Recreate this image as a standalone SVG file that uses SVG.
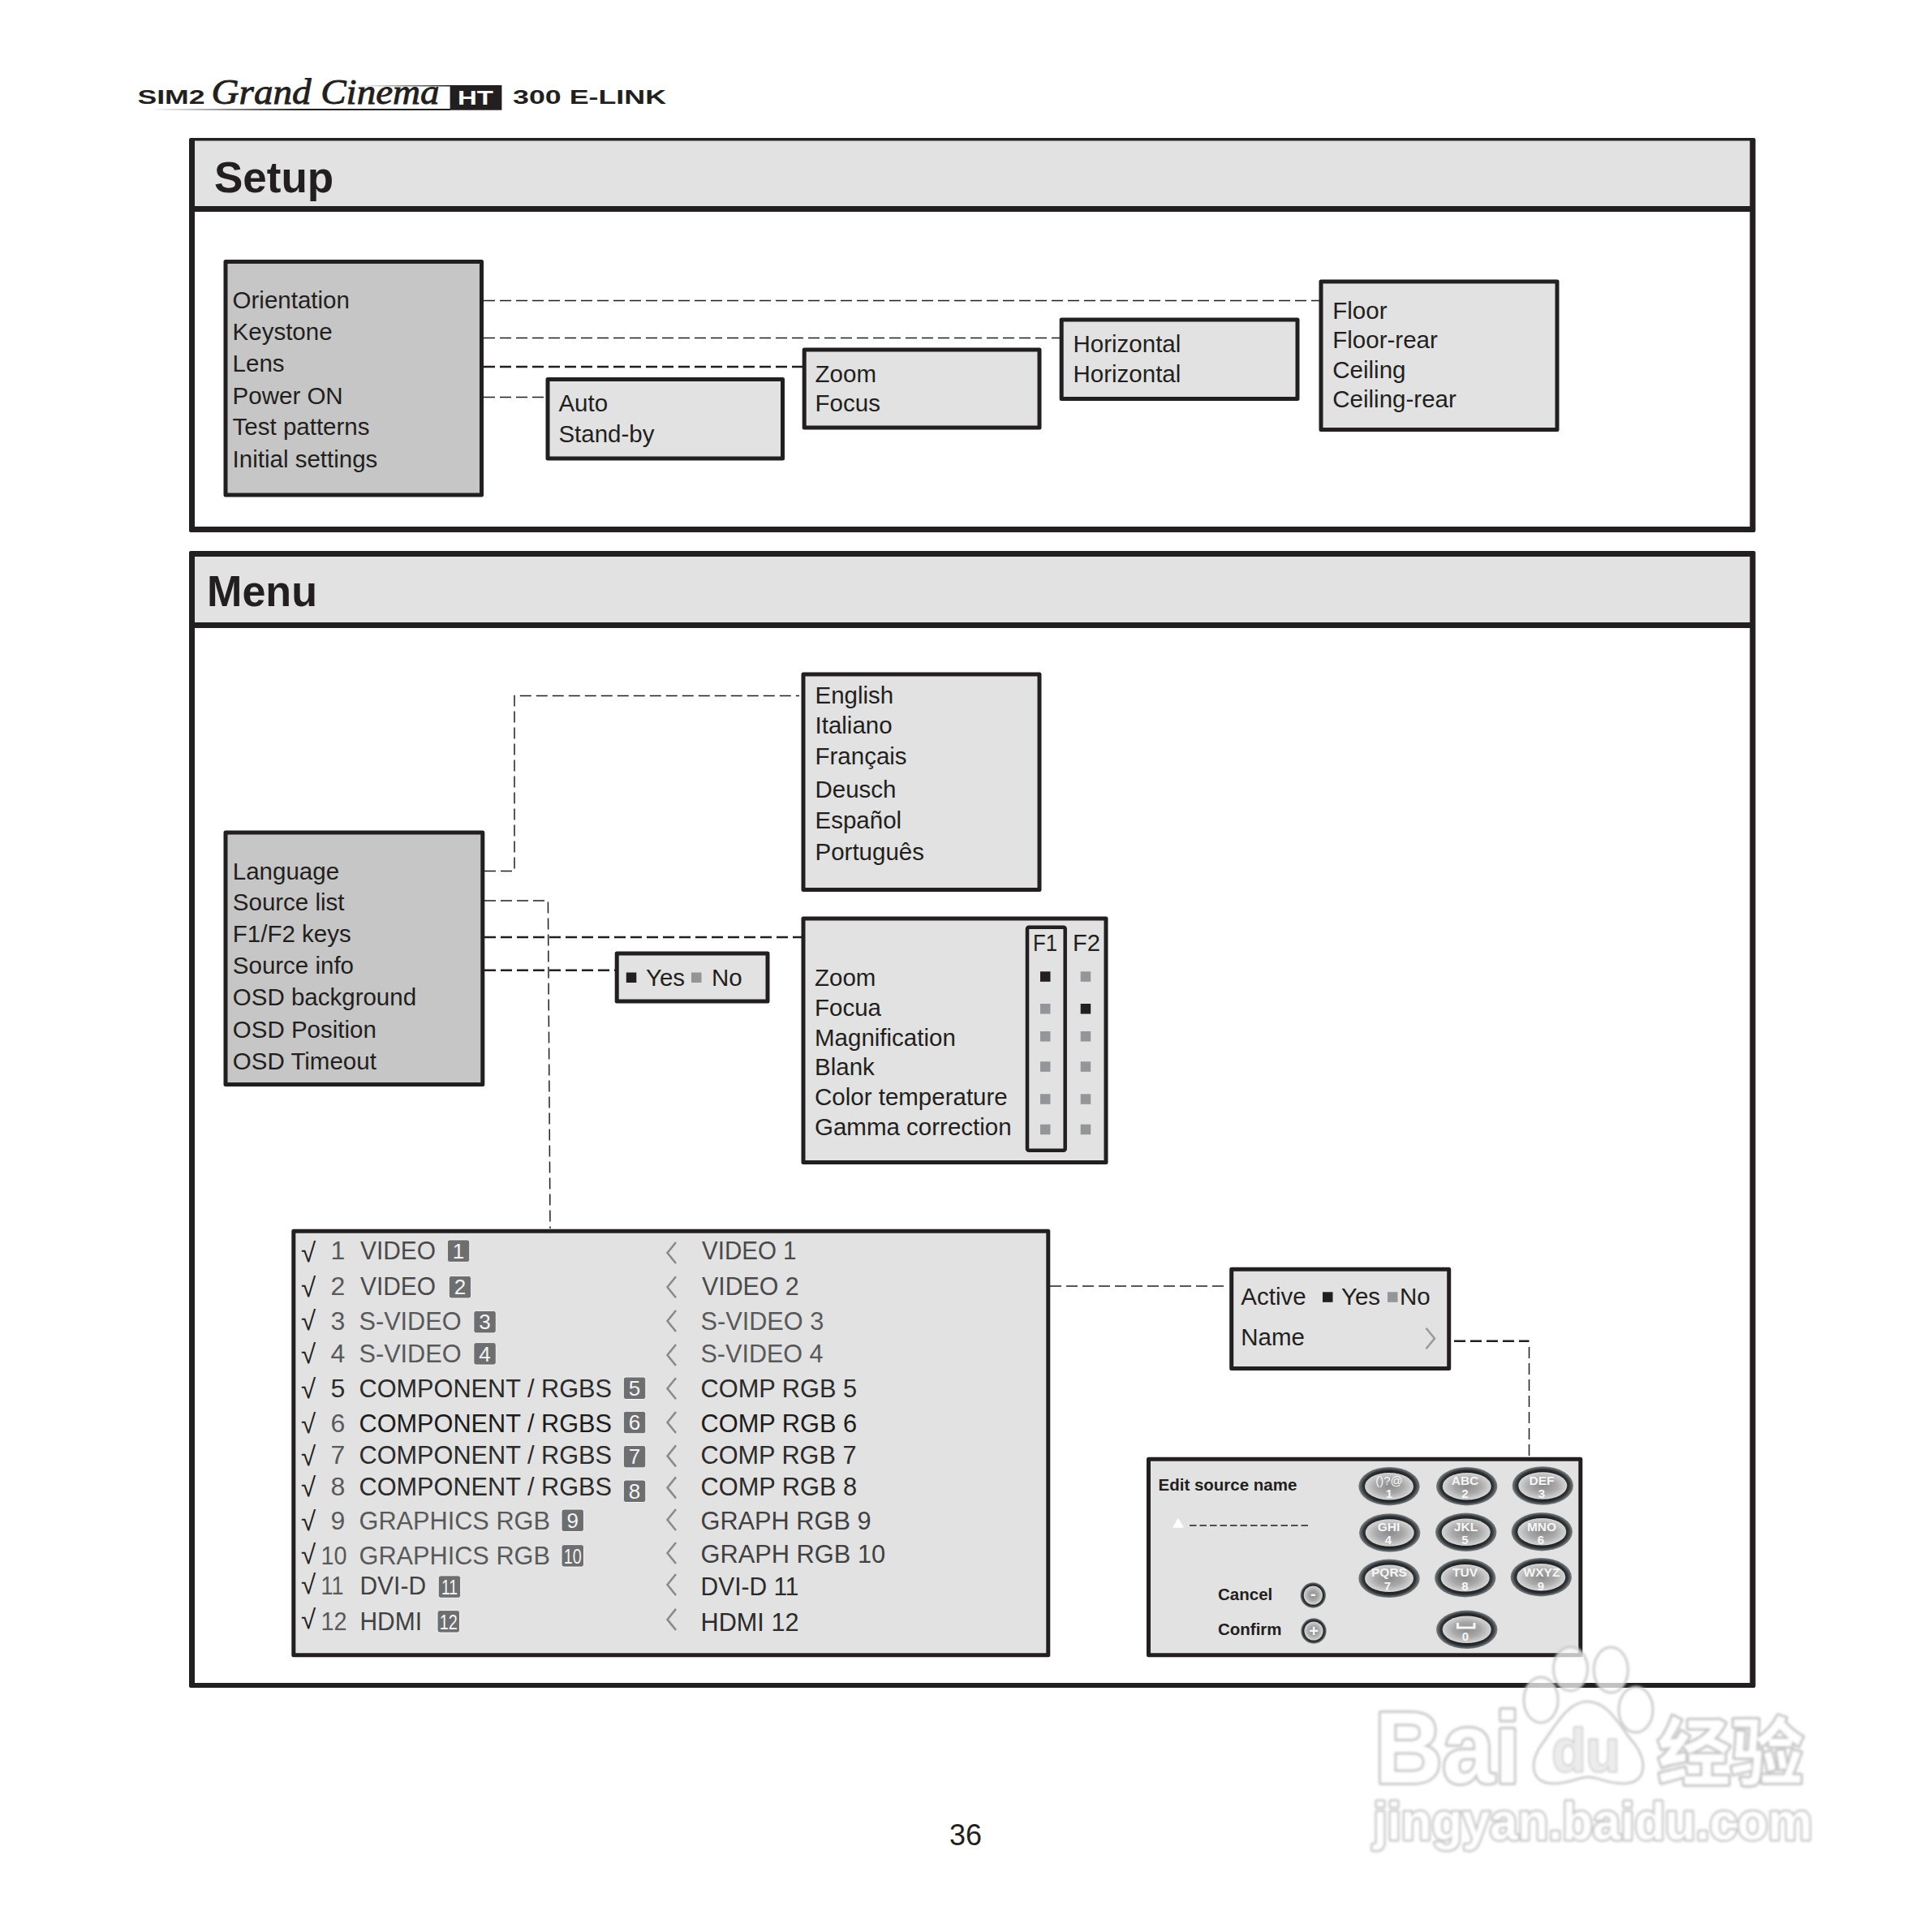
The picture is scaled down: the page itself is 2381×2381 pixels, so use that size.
<svg xmlns="http://www.w3.org/2000/svg" width="2381" height="2381" viewBox="0 0 2381 2381">
<style>
text{font-family:"Liberation Sans",Arial,sans-serif;fill:#231f20}
.t{font-size:29.5px}
.h{font-size:53px;font-weight:bold}
.box{fill:#e2e2e2;stroke:#231f20;stroke-width:5;stroke-linejoin:round}
.dark{fill:#c6c6c6}
.thin{fill:none;stroke:#231f20;stroke-width:1.5;stroke-dasharray:14 6}
.thick{fill:none;stroke:#231f20;stroke-width:2.6;stroke-dasharray:14 6}
.on{fill:#231f20}
.off{fill:#939598}
.s{font-size:32px}
.g1{fill:#4a4a4c}.g2{fill:#58595b}.g3{fill:#2b2b2b}.g4{fill:#1c1c1c}.g5{fill:#414042}
.chk{font-size:33px;fill:#231f20}
.bd{fill:#6d6e70;stroke:#f5f5f5;stroke-width:1}
.bt{font-size:26px;fill:#f4f4f4;text-anchor:middle}
.chev{fill:none;stroke:#8a8a8c;stroke-width:2.6}
.kl{font-size:15px;font-weight:bold;fill:#f6f6f6;text-anchor:middle}
.lb{font-size:20.5px;font-weight:bold}
.logo{font-weight:bold;font-size:24px}
.wm{fill:#fff;fill-opacity:.72;stroke:#c2c2c2;stroke-width:2.5}
.wmt{fill:#fff;stroke:#c6c6c6;stroke-width:6;paint-order:stroke;stroke-linejoin:round;font-weight:bold}
</style>
<defs>
<linearGradient id="fade" x1="0" x2="1" y1="0" y2="0"><stop offset="0" stop-color="#231f20" stop-opacity="0"/><stop offset=".5" stop-color="#231f20"/></linearGradient>
<linearGradient id="fade2" x1="0" x2="1" y1="0" y2="0"><stop offset="0" stop-color="#231f20" stop-opacity="0"/><stop offset="1" stop-color="#231f20"/></linearGradient>
<radialGradient id="ring"><stop offset=".72" stop-color="#18191b"/><stop offset=".86" stop-color="#33373a"/><stop offset="1" stop-color="#7c8285"/></radialGradient>
<radialGradient id="cap"><stop offset="0" stop-color="#8b8b8b"/><stop offset=".55" stop-color="#a8a8a8"/><stop offset="1" stop-color="#d6d6d6"/></radialGradient>
<g id="key"><ellipse rx="37.7" ry="23.7" fill="url(#ring)"/><ellipse rx="30" ry="16.8" fill="url(#cap)"/></g>
<g id="rkey"><circle r="15.7" fill="url(#ring)"/><circle r="11.6" fill="url(#cap)"/></g>
<filter id="soft" x="-5%" y="-5%" width="110%" height="110%"><feGaussianBlur stdDeviation="1.4"/></filter>
</defs>
<rect width="2381" height="2381" fill="#fff"/>

<g id="logo">
<text class="logo" x="169.5" y="128" textLength="83" lengthAdjust="spacingAndGlyphs">SIM2</text>
<text x="260.6" y="128" textLength="281" lengthAdjust="spacingAndGlyphs" style="font-family:'Liberation Serif',serif;font-style:italic;font-size:44px;stroke:#231f20;stroke-width:.9">Grand Cinema</text>
<rect x="186" y="134" width="369" height="2" fill="url(#fade)"/>
<rect x="440" y="105" width="115" height="1.5" fill="url(#fade2)"/>
<rect x="554.6" y="105" width="63.8" height="30.7" fill="#231f20"/>
<text class="logo" x="564" y="129" textLength="44" lengthAdjust="spacingAndGlyphs" style="fill:#fff">HT</text>
<text class="logo" x="632" y="128" textLength="189" lengthAdjust="spacingAndGlyphs">300 E-LINK</text>
</g>

<g id="panel-setup">
<rect x="233" y="170" width="1930.500" height="486" rx="2" fill="#231f20"/>
<rect x="240" y="173.500" width="1916.500" height="80.500" fill="#e2e2e2"/>
<rect x="240" y="261" width="1916.500" height="388" fill="#fff"/>
<text class="h" x="264" y="236.500">Setup</text>
</g>
<g id="panel-menu">
<rect x="233" y="679" width="1930.500" height="1401" rx="2" fill="#231f20"/>
<rect x="240" y="686" width="1916.500" height="81" fill="#e2e2e2"/>
<rect x="240" y="774" width="1916.500" height="1300" fill="#fff"/>
<text class="h" x="255" y="747" textLength="136" lengthAdjust="spacingAndGlyphs">Menu</text>
</g>

<g id="connectors">
<path class="thin" d="M596 370.500H1626"/>
<path class="thin" d="M596 416.500H1306"/>
<path class="thick" d="M596 452H989"/>
<path class="thin" d="M596 489.500H672"/>
<path class="thin" d="M597 1073.600H634V857.400H985"/>
<path class="thin" d="M597 1110H675.400L678 1514"/>
<path class="thick" d="M597 1155H988"/>
<path class="thick" d="M597 1195.800H758"/>
<path class="thin" d="M1294 1585H1510"/>
<path class="thick" d="M1792 1652.700H1884.500"/>
<path class="thin" d="M1884.500 1660V1796"/>
</g>

<g id="setup-menu">
<rect class="box dark" x="278" y="322.500" width="315.500" height="287.500"/>
<text class="t" x="286.600" y="380">Orientation</text>
<text class="t" x="286.600" y="419.400">Keystone</text>
<text class="t" x="286.600" y="458.400">Lens</text>
<text class="t" x="286.600" y="497.500">Power ON</text>
<text class="t" x="286.600" y="536">Test patterns</text>
<text class="t" x="286.600" y="576">Initial settings</text>
</g>
<g id="power-on">
<rect class="box" x="675" y="467.500" width="289.500" height="97.500"/>
<text class="t" x="688.400" y="507.400">Auto</text>
<text class="t" x="688.400" y="544.500">Stand-by</text>
</g>
<g id="lens">
<rect class="box" x="991.200" y="431" width="289.800" height="96"/>
<text class="t" x="1004.600" y="470.700">Zoom</text>
<text class="t" x="1004.600" y="507.400">Focus</text>
</g>
<g id="keystone">
<rect class="box" x="1308.200" y="394" width="290.800" height="97.500"/>
<text class="t" x="1322.500" y="434">Horizontal</text>
<text class="t" x="1322.500" y="471">Horizontal</text>
</g>
<g id="orientation">
<rect class="box" x="1628" y="347" width="291" height="182.500"/>
<text class="t" x="1642.300" y="392.700">Floor</text>
<text class="t" x="1642.300" y="428.700">Floor-rear</text>
<text class="t" x="1642.300" y="465.700">Ceiling</text>
<text class="t" x="1642.300" y="502.300">Ceiling-rear</text>
</g>

<g id="main-menu">
<rect class="box dark" x="278" y="1026" width="316.800" height="310.500"/>
<text class="t" x="286.800" y="1083.700">Language</text>
<text class="t" x="286.800" y="1122">Source list</text>
<text class="t" x="286.800" y="1161.300">F1/F2 keys</text>
<text class="t" x="286.800" y="1200.400">Source info</text>
<text class="t" x="286.800" y="1239.400">OSD background</text>
<text class="t" x="286.800" y="1279">OSD Position</text>
<text class="t" x="286.800" y="1318">OSD Timeout</text>
</g>
<g id="language">
<rect class="box" x="990" y="831" width="291" height="265.500"/>
<text class="t" x="1004.500" y="867">English</text>
<text class="t" x="1004.500" y="903.800">Italiano</text>
<text class="t" x="1004.500" y="942.300">Français</text>
<text class="t" x="1004.500" y="982.700">Deusch</text>
<text class="t" x="1004.500" y="1021.300">Español</text>
<text class="t" x="1004.500" y="1060.300">Português</text>
</g>
<g id="f-keys">
<rect class="box" x="990" y="1132" width="373" height="300.500"/>
<rect x="1266" y="1142.800" width="46.700" height="275" rx="2" fill="none" stroke="#231f20" stroke-width="4.500"/>
<text class="t" x="1004" y="1214.600">Zoom</text>
<text class="t" x="1004" y="1252">Focua</text>
<text class="t" x="1004" y="1289">Magnification</text>
<text class="t" x="1004" y="1324.800">Blank</text>
<text class="t" x="1004" y="1362.400">Color temperature</text>
<text class="t" x="1004" y="1399">Gamma correction</text>
<text class="t" x="1273" y="1172" textLength="30" lengthAdjust="spacingAndGlyphs">F1</text>
<text class="t" x="1322" y="1172" textLength="34" lengthAdjust="spacingAndGlyphs">F2</text>
<rect class="on" x="1282" y="1197.300" width="12.500" height="12.500"/>
<rect class="off" x="1282" y="1237" width="12.500" height="12.500"/>
<rect class="off" x="1282" y="1271" width="12.500" height="12.500"/>
<rect class="off" x="1282" y="1308.300" width="12.500" height="12.500"/>
<rect class="off" x="1282" y="1348.300" width="12.500" height="12.500"/>
<rect class="off" x="1282" y="1385.700" width="12.500" height="12.500"/>
<rect class="off" x="1331.700" y="1197.300" width="12.500" height="12.500"/>
<rect class="on" x="1331.700" y="1237" width="12.500" height="12.500"/>
<rect class="off" x="1331.700" y="1271" width="12.500" height="12.500"/>
<rect class="off" x="1331.700" y="1308.300" width="12.500" height="12.500"/>
<rect class="off" x="1331.700" y="1348.300" width="12.500" height="12.500"/>
<rect class="off" x="1331.700" y="1385.700" width="12.500" height="12.500"/>
</g>
<g id="source-info">
<rect class="box" x="760.200" y="1175" width="185.800" height="59"/>
<rect class="on" x="771.800" y="1198.500" width="12.500" height="12.500"/>
<text class="t" x="796" y="1214.500">Yes</text>
<rect class="off" x="852" y="1198.500" width="12.500" height="12.500"/>
<text class="t" x="877" y="1214.500">No</text>
</g>

<g id="source-list">
<rect class="box" x="361.800" y="1517.200" width="930" height="522.600"/>
<g id="row-marks" class="chk">
<text class="chk" x="371" y="1554.600">√</text><text class="chk" x="371" y="1598">√</text><text class="chk" x="371" y="1638.600">√</text><text class="chk" x="371" y="1679.600">√</text><text class="chk" x="371" y="1723">√</text><text class="chk" x="371" y="1766">√</text><text class="chk" x="371" y="1806.400">√</text><text class="chk" x="371" y="1843.600">√</text><text class="chk" x="371" y="1886">√</text><text class="chk" x="371" y="1926.800">√</text><text class="chk" x="371" y="1964">√</text><text class="chk" x="371" y="2007">√</text>
</g>
<g id="row-numbers">
<text class="s g2" x="407.500" y="1552">1</text><text class="s g2" x="407.500" y="1596.400">2</text><text class="s g2" x="407.500" y="1639.300">3</text><text class="s g2" x="407.500" y="1678.600">4</text><text class="s g3" x="407.500" y="1722">5</text><text class="s g2" x="407.500" y="1764.600">6</text><text class="s g2" x="407.500" y="1804">7</text><text class="s g2" x="407.500" y="1842.900">8</text><text class="s g2" x="407.500" y="1884.600">9</text>
<text class="s g2" x="395.500" y="1927.500" textLength="32" lengthAdjust="spacingAndGlyphs">10</text><text class="s g2" x="395.500" y="1965.400" textLength="28" lengthAdjust="spacingAndGlyphs">11</text><text class="s g2" x="395.500" y="2008.600" textLength="32" lengthAdjust="spacingAndGlyphs">12</text>
</g>
<g id="row-labels">
<text class="s g1" x="444" y="1552" textLength="93" lengthAdjust="spacingAndGlyphs">VIDEO</text>
<text class="s g1" x="444" y="1596.400" textLength="93" lengthAdjust="spacingAndGlyphs">VIDEO</text>
<text class="s g2" x="442.500" y="1639.300" textLength="126" lengthAdjust="spacingAndGlyphs">S-VIDEO</text>
<text class="s g2" x="442.500" y="1678.600" textLength="126" lengthAdjust="spacingAndGlyphs">S-VIDEO</text>
<text class="s g3" x="442.500" y="1722" textLength="311.500" lengthAdjust="spacingAndGlyphs">COMPONENT / RGBS</text>
<text class="s g4" x="442.500" y="1764.600" textLength="311.500" lengthAdjust="spacingAndGlyphs">COMPONENT / RGBS</text>
<text class="s g3" x="442.500" y="1804" textLength="311.500" lengthAdjust="spacingAndGlyphs">COMPONENT / RGBS</text>
<text class="s g3" x="442.500" y="1842.900" textLength="311.500" lengthAdjust="spacingAndGlyphs">COMPONENT / RGBS</text>
<text class="s g2" x="442.500" y="1884.600" textLength="235.400" lengthAdjust="spacingAndGlyphs">GRAPHICS RGB</text>
<text class="s g2" x="442.500" y="1927.500" textLength="235.400" lengthAdjust="spacingAndGlyphs">GRAPHICS RGB</text>
<text class="s g5" x="443.500" y="1965.400" textLength="81.500" lengthAdjust="spacingAndGlyphs">DVI-D</text>
<text class="s g5" x="443.500" y="2008.600" textLength="76.500" lengthAdjust="spacingAndGlyphs">HDMI</text>
</g>
<g id="row-badges">
<rect class="bd" x="551.300" y="1527.900" width="27.500" height="27.500" rx="3"/><text class="bt" x="565" y="1550.500">1</text>
<rect class="bd" x="553.200" y="1572.500" width="27.500" height="27.500" rx="3"/><text class="bt" x="567" y="1595">2</text>
<rect class="bd" x="583.800" y="1615.400" width="27.500" height="27.500" rx="3"/><text class="bt" x="597.500" y="1638">3</text>
<rect class="bd" x="583.800" y="1654.600" width="27.500" height="27.500" rx="3"/><text class="bt" x="597.500" y="1677.500">4</text>
<rect class="bd" x="768.300" y="1697" width="27.500" height="27.500" rx="3"/><text class="bt" x="782" y="1719.500">5</text>
<rect class="bd" x="768.300" y="1739.300" width="27.500" height="27.500" rx="3"/><text class="bt" x="782" y="1761.500">6</text>
<rect class="bd" x="768.300" y="1781.400" width="27.500" height="27.500" rx="3"/><text class="bt" x="782" y="1804">7</text>
<rect class="bd" x="768.300" y="1824" width="27.500" height="27.500" rx="3"/><text class="bt" x="782" y="1847">8</text>
<rect class="bd" x="692" y="1860" width="27.500" height="27.500" rx="3"/><text class="bt" x="705.700" y="1882.500">9</text>
<rect class="bd" x="692" y="1903.600" width="27.500" height="27.500" rx="3"/><text class="bt" x="705.700" y="1926.500" textLength="22" lengthAdjust="spacingAndGlyphs">10</text>
<rect class="bd" x="540.200" y="1941.800" width="27.500" height="27.500" rx="3"/><text class="bt" x="554" y="1964.500" textLength="20" lengthAdjust="spacingAndGlyphs">11</text>
<rect class="bd" x="539" y="1984.600" width="27.500" height="27.500" rx="3"/><text class="bt" x="552.700" y="2007.500" textLength="22" lengthAdjust="spacingAndGlyphs">12</text>
</g>
<g id="row-chevrons">
<path class="chev" d="M833 1531L822.500 1544L833 1557"/><path class="chev" d="M833 1573.200L822.500 1586.200L833 1599.200"/><path class="chev" d="M833 1615L822.500 1628L833 1641"/><path class="chev" d="M833 1657L822.500 1670L833 1683"/><path class="chev" d="M833 1698.200L822.500 1711.200L833 1724.200"/><path class="chev" d="M833 1740L822.500 1753L833 1766"/><path class="chev" d="M833 1781.400L822.500 1794.400L833 1807.400"/><path class="chev" d="M833 1820.400L822.500 1833.400L833 1846.400"/><path class="chev" d="M833 1860L822.500 1873L833 1886"/><path class="chev" d="M833 1901L822.500 1914L833 1927"/><path class="chev" d="M833 1940L822.500 1953L833 1966"/><path class="chev" d="M833 1982.900L822.500 1995.900L833 2008.900"/>
</g>
<g id="row-names">
<text class="s g1" x="865" y="1552" textLength="116.500" lengthAdjust="spacingAndGlyphs">VIDEO 1</text>
<text class="s g1" x="865" y="1596.400" textLength="119.700" lengthAdjust="spacingAndGlyphs">VIDEO 2</text>
<text class="s g2" x="863.500" y="1639.300" textLength="151.700" lengthAdjust="spacingAndGlyphs">S-VIDEO 3</text>
<text class="s g2" x="863.500" y="1678.600" textLength="151" lengthAdjust="spacingAndGlyphs">S-VIDEO 4</text>
<text class="s g3" x="863.500" y="1722" textLength="192.700" lengthAdjust="spacingAndGlyphs">COMP RGB 5</text>
<text class="s g4" x="863.500" y="1764.600" textLength="192.700" lengthAdjust="spacingAndGlyphs">COMP RGB 6</text>
<text class="s g3" x="863.500" y="1804" textLength="192" lengthAdjust="spacingAndGlyphs">COMP RGB 7</text>
<text class="s g3" x="863.500" y="1842.900" textLength="192.700" lengthAdjust="spacingAndGlyphs">COMP RGB 8</text>
<text class="s g5" x="863.500" y="1884.600" textLength="210" lengthAdjust="spacingAndGlyphs">GRAPH RGB 9</text>
<text class="s g5" x="863.500" y="1925.700" textLength="227.700" lengthAdjust="spacingAndGlyphs">GRAPH RGB 10</text>
<text class="s g3" x="863.500" y="1966.400" textLength="121" lengthAdjust="spacingAndGlyphs">DVI-D 11</text>
<text class="s g3" x="863.500" y="2009.600" textLength="121" lengthAdjust="spacingAndGlyphs">HDMI 12</text>
</g>
</g>

<g id="source-edit">
<rect class="box" x="1517.700" y="1564.200" width="268" height="122.300"/>
<text class="t" x="1529.300" y="1608.300">Active</text>
<rect class="on" x="1630" y="1592.300" width="12.500" height="12.500"/>
<text class="t" x="1653" y="1608.300">Yes</text>
<rect class="off" x="1710" y="1592.300" width="12.500" height="12.500"/>
<text class="t" x="1725" y="1608.300">No</text>
<text class="t" x="1529.300" y="1658.300">Name</text>
<path class="chev" style="stroke:#9a9a9c" d="M1757.500 1636.700L1768 1649.500L1757.500 1662.300"/>
</g>

<g id="edit-name">
<rect class="box" x="1415.500" y="1798.200" width="532.300" height="241.600"/>
<text class="lb" x="1427.500" y="1836.700">Edit source name</text>
<path d="M1445 1882.700L1452 1870.700L1459 1882.700Z" fill="#fff"/>
<path d="M1466 1880H1616" stroke="#231f20" stroke-width="1.600" stroke-dasharray="8.500 4" fill="none"/>
<text class="lb" x="1501" y="1971.700">Cancel</text>
<text class="lb" x="1501" y="2015">Confirm</text>
<use href="#rkey" x="1618.300" y="1966"/><text class="kl" x="1618.300" y="1971" style="font-size:20px">-</text>
<use href="#rkey" x="1619" y="2010"/><text class="kl" x="1619" y="2017" style="font-size:20px">+</text>
<use href="#key" x="1712" y="1831.700"/><text class="kl" x="1712" y="1829.500" style="font-weight:normal">()?@</text><text class="kl" x="1712" y="1846">1</text>
<use href="#key" x="1807.700" y="1831.700"/><text class="kl" x="1805.500" y="1829.500" style="font-size:15.500px">ABC</text><text class="kl" x="1805.500" y="1846">2</text>
<use href="#key" x="1901.300" y="1831"/><text class="kl" x="1900" y="1829.500" style="font-size:15.500px">DEF</text><text class="kl" x="1900" y="1846">3</text>
<use href="#key" x="1712.700" y="1889"/><text class="kl" x="1711.500" y="1886.500" style="font-size:15.500px">GHI</text><text class="kl" x="1711" y="1903">4</text>
<use href="#key" x="1806.700" y="1888.300"/><text class="kl" x="1806.500" y="1886.500" style="font-size:15.500px">JKL</text><text class="kl" x="1805.500" y="1903">5</text>
<use href="#key" x="1900.300" y="1887.700"/><text class="kl" x="1900" y="1886.500" style="font-size:15.500px">MNO</text><text class="kl" x="1899" y="1903">6</text>
<use href="#key" x="1712" y="1945.300"/><text class="kl" x="1712" y="1942.500" style="font-size:15.500px">PQRS</text><text class="kl" x="1710" y="1959.500">7</text>
<use href="#key" x="1805.700" y="1944.700"/><text class="kl" x="1805.500" y="1942.500" style="font-size:15.500px">TUV</text><text class="kl" x="1805.500" y="1959.500">8</text>
<use href="#key" x="1899.300" y="1943.700"/><text class="kl" x="1900" y="1942.500" style="font-size:15.500px">WXYZ</text><text class="kl" x="1899" y="1959.500">9</text>
<use href="#key" x="1807.700" y="2008.300"/><path d="M1796.500 2000V2006H1817V2000" fill="none" stroke="#f6f6f6" stroke-width="3"/><text class="kl" x="1806" y="2021.700">0</text>
</g>

<text id="page-number" x="1170" y="2274" style="font-size:36px">36</text>

<g id="watermark" filter="url(#soft)">
<ellipse class="wm" cx="1899" cy="2095" rx="21" ry="28"/>
<ellipse class="wm" cx="1935.500" cy="2056.700" rx="21" ry="27"/>
<ellipse class="wm" cx="1985.300" cy="2058" rx="21" ry="28"/>
<ellipse class="wm" cx="2016" cy="2107" rx="21" ry="28"/>
<path class="wm" d="M1956 2097C1930 2097 1912 2135 1900 2150C1885 2170 1885 2198 1915 2198C1935 2198 1945 2190 1957 2190C1970 2190 1980 2198 2000 2198C2030 2198 2030 2170 2015 2150C2000 2135 1985 2097 1956 2097Z"/>
<text class="wmt" x="1694" y="2196.700" textLength="180" lengthAdjust="spacingAndGlyphs" style="font-size:125px">Bai</text>
<text class="wmt" x="1912.600" y="2183" textLength="84" lengthAdjust="spacingAndGlyphs" style="font-size:74px;fill:#ececec;stroke-width:3">du</text>
<text class="wmt" x="2042.700" y="2192" textLength="180" lengthAdjust="spacingAndGlyphs" style="font-size:90px;font-family:'Noto Sans CJK SC',sans-serif">经验</text>
<text class="wmt" x="1692.500" y="2266.700" textLength="541" lengthAdjust="spacingAndGlyphs" style="font-size:64px;stroke-width:5">jingyan.baidu.com</text>
</g>
</svg>
